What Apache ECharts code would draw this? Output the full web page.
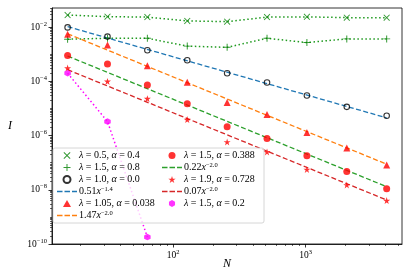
<!DOCTYPE html>
<html><head><meta charset="utf-8">
<script src="https://cdn.jsdelivr.net/npm/echarts@6/dist/echarts.min.js"></script>
<style>html,body{margin:0;padding:0;background:#fff}#c{width:415px;height:272px}</style>
</head><body><div id="c"></div>
<script>
// ---- data ----
const N = [16, 32, 64, 128, 256, 512, 1024, 2048, 4096];
const N_mag = [16, 32, 64];
const N_fit = [16, 4096];
const I_l05_a04 = [2.8e-2, 2.45e-2, 2.35e-2, 1.7e-2, 1.6e-2, 2.35e-2, 2.4e-2, 2.25e-2, 2.25e-2];
const I_l15_a08 = [3.6e-3, 3.9e-3, 3.9e-3, 2.0e-3, 1.8e-3, 3.9e-3, 2.7e-3, 3.7e-3, 3.7e-3];
const I_l10_a00 = [9.8e-3, 4.5e-3, 1.4e-3, 6.0e-4, 2.0e-4, 9.1e-5, 3.0e-5, 1.15e-5, 5.4e-6];
const I_l105_a038 = [5.5e-3, 2.2e-3, 3.8e-4, 9.3e-5, 1.66e-5, 6.0e-6, 1.3e-6, 3.5e-7, 8.3e-8];
const I_l15_a388 = [9.1e-4, 4.4e-4, 7.4e-5, 1.5e-5, 2.1e-6, 7.8e-7, 1.8e-7, 4.7e-8, 1.1e-8];
const I_l19_a728 = [3.1e-4, 1.0e-4, 2.3e-5, 3.9e-6, 5.8e-7, 2.5e-7, 5.6e-8, 1.5e-8, 4.0e-9];
const I_l15_a02 = [2.0e-4, 3.3e-6, 1.8e-10];
const fit_blue = [1.05e-2, 4.5e-6];
const fit_orange = [5.7e-3, 8.8e-8];
const fit_green = [8.6e-4, 1.3e-8];
const fit_red = [2.7e-4, 4.2e-9];
const xMajor = [100, 1000];
const yMajor = [1e-10, 1e-8, 1e-6, 1e-4, 1e-2];

const names = {
  a: 'λ = 0.5, α = 0.4', b: 'λ = 1.5, α = 0.8', c: 'λ = 1.0, α = 0.0', fb: '0.51x^-1.4',
  d: 'λ = 1.05, α = 0.038', fo: '1.47x^-2.0', e: 'λ = 1.5, α = 0.388', fg: '0.22x^-2.0',
  f: 'λ = 1.9, α = 0.728', fr: '0.07x^-2.0', g: 'λ = 1.5, α = 0.2'
};
const richNames = {};
richNames[names.a] = '{i|λ} = 0.5, {i|α} = 0.4';
richNames[names.b] = '{i|λ} = 1.5, {i|α} = 0.8';
richNames[names.c] = '{i|λ} = 1.0, {i|α} = 0.0';
richNames[names.fb] = '0.51{i|x}{sup|−1.4}';
richNames[names.d] = '{i|λ} = 1.05, {i|α} = 0.038';
richNames[names.fo] = '1.47{i|x}{sup|−2.0}';
richNames[names.e] = '{i|λ} = 1.5, {i|α} = 0.388';
richNames[names.fg] = '0.22{i|x}{sup|−2.0}';
richNames[names.f] = '{i|λ} = 1.9, {i|α} = 0.728';
richNames[names.fr] = '0.07{i|x}{sup|−2.0}';
richNames[names.g] = '{i|λ} = 1.5, {i|α} = 0.2';

const pair = (xs, ys) => xs.map((x, i) => [x, ys[i]]);

const minorX = [], minorY = [];
for (let e = 1; e <= 3; e++) for (let m = 2; m <= 9; m++) minorX.push(m * Math.pow(10, e));
for (let e = -10; e <= -2; e++) for (let m = 1; m <= 9; m++) {
  if (m === 1 && e % 2 === 0) continue;
  minorY.push(m * Math.pow(10, e));
}

const FONT = 'Liberation Serif';
const supRich = {
  b: { fontFamily: FONT, fontSize: 9.5, color: '#000' },
  sup: { fontFamily: FONT, fontSize: 6.5, color: '#000', padding: [0, 0, 6, 0] }
};
const expLabel = v => { const e = Math.round(Math.log10(v)); return '{b|10}{sup|' + String(e).replace('-', '−') + '}'; };

const XMARK = 'path://M0,1L1,0L5,4L9,0L10,1L6,5L10,9L9,10L5,6L1,10L0,9L4,5Z';
const PLUS = 'path://M4.3,0H5.7V4.3H10V5.7H5.7V10H4.3V5.7H0V4.3H4.3Z';
const STAR = 'path://M50,0L61.2,34.5L97.6,34.5L68.2,55.9L79.4,90.5L50,69.1L20.6,90.5L31.8,55.9L2.4,34.5L38.8,34.5Z';
const HEX = 'path://M50,0L93.3,25L93.3,75L50,100L6.7,75L6.7,25Z';
const TRI = 'path://M50,0L100,86.6L0,86.6Z';
const DASHICON = 'path://M0,0H5.5V1.3H0Z M7.5,0H13V1.3H7.5Z M15,0H20V1.3H15Z';

const dotted = (c) => ({ color: c, width: 1.5, type: [1.5, 2.5] });
const dashed = (c) => ({ color: c, width: 1.3, type: [5, 2.5] });
const C = { blue: '#1f77b4', orange: '#ff7f0e', green: '#2ca02c', red: '#d62728' };

const series = [
  { type: 'line', data: pair(N, I_l05_a04), symbol: 'none', lineStyle: dotted('#1f9a1f'), z: 2 },
  { type: 'line', data: pair(N, I_l15_a08), symbol: 'none', lineStyle: dotted('#1f9a1f'), z: 2 },
  { type: 'line', data: pair(N_mag, I_l15_a02), symbol: 'none', lineStyle: dotted('#ff00ff'), z: 2 },
  { name: names.fb, type: 'line', data: pair(N_fit, fit_blue), symbol: 'none', lineStyle: dashed(C.blue), itemStyle: { color: C.blue }, z: 2 },
  { name: names.fo, type: 'line', data: pair(N_fit, fit_orange), symbol: 'none', lineStyle: dashed(C.orange), itemStyle: { color: C.orange }, z: 2 },
  { name: names.fg, type: 'line', data: pair(N_fit, fit_green), symbol: 'none', lineStyle: dashed(C.green), itemStyle: { color: C.green }, z: 2 },
  { name: names.fr, type: 'line', data: pair(N_fit, fit_red), symbol: 'none', lineStyle: dashed(C.red), itemStyle: { color: C.red }, z: 2 },
  { name: names.a, type: 'scatter', data: pair(N, I_l05_a04), symbol: XMARK, symbolSize: 6.5, itemStyle: { color: '#008000' }, z: 3 },
  { name: names.b, type: 'scatter', data: pair(N, I_l15_a08), symbol: PLUS, symbolSize: 7, itemStyle: { color: '#008000' }, z: 3 },
  { name: names.c, type: 'scatter', data: pair(N, I_l10_a00), symbol: 'circle', symbolSize: 5.5, itemStyle: { color: 'rgba(255,255,255,0)', borderColor: '#000', borderWidth: 1.1 }, z: 3 },
  { name: names.d, type: 'scatter', data: pair(N, I_l105_a038), symbol: TRI, symbolSize: 7, itemStyle: { color: '#ff0000' }, z: 3 },
  { name: names.e, type: 'scatter', data: pair(N, I_l15_a388), symbol: 'circle', symbolSize: 7, itemStyle: { color: '#ff0000' }, z: 3 },
  { name: names.f, type: 'scatter', data: pair(N, I_l19_a728), symbol: STAR, symbolSize: 7, itemStyle: { color: '#ff0000' }, z: 3 },
  { name: names.g, type: 'scatter', data: pair(N_mag, I_l15_a02), symbol: HEX, symbolSize: 6.5, itemStyle: { color: '#ff00ff' }, z: 3 }
];

const fitItem = (n, c) => ({ name: n, icon: DASHICON, itemStyle: { color: c, borderWidth: 0 } });

const legendBase = {
  orient: 'vertical', itemWidth: 20, itemHeight: 7, itemGap: 1, padding: 0, z: 20,
  selectedMode: false, symbolKeepAspect: true,
  formatter: n => richNames[n] || n,
  textStyle: {
    fontFamily: FONT, fontSize: 10, color: '#000', padding: [0, 0, 0, -3], lineHeight: 11,
    rich: {
      i: { fontFamily: FONT, fontSize: 10, fontStyle: 'italic', color: '#000', lineHeight: 11 },
      sup: { fontFamily: FONT, fontSize: 6.5, color: '#000', lineHeight: 7, padding: [0, 0, 4, 0] }
    }
  }
};

const chart = echarts.init(document.getElementById('c'), null, { renderer: 'canvas' });
chart.setOption({
  animation: false,
  backgroundColor: '#fff',
  grid: { left: 52, right: 13, top: 8, bottom: 28, containLabel: false, outerBoundsMode: 'none',
    show: true, borderColor: '#000', borderWidth: 0.8, backgroundColor: 'transparent' },
  xAxis: [
    { type: 'log', logBase: 10, min: 12.2, max: 5346, name: 'N', nameLocation: 'middle', nameGap: 14,
      nameMoveOverlap: false,
      nameTextStyle: { fontFamily: FONT, fontStyle: 'italic', fontSize: 12, color: '#000' },
      axisLine: { show: true, lineStyle: { color: '#000', width: 0.8 } },
      axisTick: { show: true, customValues: xMajor, length: 3.5, lineStyle: { color: '#000', width: 0.8 } },
      axisLabel: { customValues: xMajor, formatter: expLabel, rich: supRich, margin: 5 },
      splitLine: { show: false }, minorTick: { show: false } },
    { type: 'log', logBase: 10, min: 12.2, max: 5346, position: 'bottom',
      axisLine: { show: false }, axisLabel: { show: false }, splitLine: { show: false },
      axisTick: { show: true, customValues: minorX, length: 2, lineStyle: { color: '#000', width: 0.6 } } }
  ],
  yAxis: [
    { type: 'log', logBase: 10, min: 1e-10, max: 0.051, name: 'I', nameLocation: 'middle', nameGap: 40, nameRotate: 0,
      nameMoveOverlap: false,
      nameTextStyle: { fontFamily: FONT, fontStyle: 'italic', fontSize: 12, color: '#000' },
      axisLine: { show: true, lineStyle: { color: '#000', width: 0.8 } },
      axisTick: { show: true, customValues: yMajor, length: 3.5, lineStyle: { color: '#000', width: 0.8 } },
      axisLabel: { customValues: yMajor, formatter: expLabel, rich: supRich, margin: 5 },
      splitLine: { show: false }, minorTick: { show: false } },
    { type: 'log', logBase: 10, min: 1e-10, max: 0.051, position: 'left', offset: 0,
      axisLine: { show: false }, axisLabel: { show: false }, splitLine: { show: false },
      axisTick: { show: true, customValues: minorY, length: 2, lineStyle: { color: '#000', width: 0.6 } } }
  ],
  graphic: [{ type: 'rect', z: 10, shape: { x: 53, y: 148, width: 211, height: 75, r: 2 },
    style: { fill: 'rgba(255,255,255,0.8)', stroke: '#cccccc', lineWidth: 0.8 } }],
  legend: [
    Object.assign({}, legendBase, { left: 57, top: 150,
      data: [names.a, names.b, names.c, fitItem(names.fb, C.blue), names.d, fitItem(names.fo, C.orange)] }),
    Object.assign({}, legendBase, { left: 162, top: 150,
      data: [names.e, fitItem(names.fg, C.green), names.f, fitItem(names.fr, C.red), names.g] })
  ],
  series: series
});
</script></body></html>
